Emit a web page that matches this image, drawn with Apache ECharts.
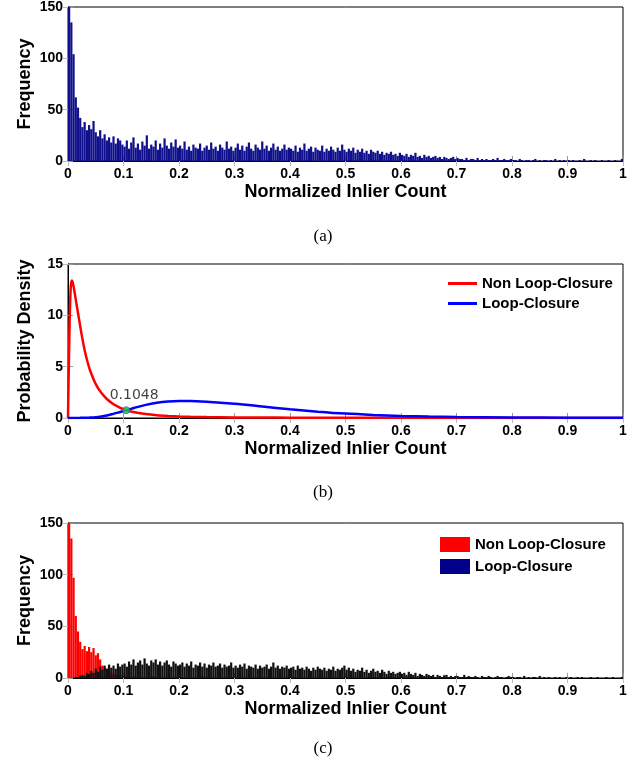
<!DOCTYPE html>
<html>
<head>
<meta charset="utf-8">
<script src="https://cdn.jsdelivr.net/npm/echarts@6/dist/echarts.min.js"></script>
<style>
  html, body { margin: 0; padding: 0; background: #fff; }
  #main { width: 639px; height: 765px; }
</style>
</head>
<body>
<div id="main"></div>
<script>
// histogram bins: width 0.004 over [0, 1], 25 bins per 0.1 row
const binWidth = 0.004;

// (a) all pairs
const freqAll = [
  150, 135, 104, 62, 52, 42, 33, 38, 30, 35, 31, 39, 28, 24, 30, 22, 26, 20, 23, 18, 24, 17, 22, 20, 16,
  14, 20, 12, 18, 23, 13, 17, 11, 19, 15, 25, 12, 16, 14, 20, 11, 17, 13, 22, 15, 12, 18, 14, 21, 13,
  15, 12, 19, 11, 14, 10, 16, 13, 12, 17, 10, 13, 15, 11, 18, 12, 14, 10, 16, 13, 11, 19, 12, 14, 10,
  13, 17, 11, 15, 10, 14, 18, 12, 10, 16, 13, 11, 19, 12, 15, 10, 13, 17, 11, 14, 10, 12, 16, 11, 13,
  12, 10, 15, 9, 13, 11, 17, 10, 12, 14, 9, 13, 11, 10, 15, 9, 12, 10, 14, 11, 9, 13, 10, 16, 11,
  9, 12, 10, 13, 8, 11, 9, 12, 8, 10, 7, 11, 9, 8, 10, 7, 9, 6, 8, 7, 9, 6, 7, 5, 8,
  6, 5, 7, 4, 6, 5, 8, 4, 5, 3, 6, 4, 5, 3, 4, 5, 3, 4, 2, 4, 3, 2, 3, 4, 2,
  3, 2, 2, 1, 3, 1, 2, 2, 1, 3, 1, 2, 1, 2, 1, 1, 2, 1, 3, 1, 1, 2, 1, 1, 2,
  1, 1, 0, 2, 1, 0, 1, 1, 0, 1, 2, 0, 1, 0, 1, 1, 0, 1, 0, 2, 0, 1, 0, 1, 0,
  1, 0, 1, 0, 0, 1, 0, 2, 0, 0, 1, 0, 1, 0, 0, 1, 0, 0, 1, 0, 0, 1, 0, 0, 2
];

// (c) split by ground truth
const freqNonLoop = [
  150, 135, 97, 60, 45, 35, 28, 31, 26, 30, 25, 29, 22, 24, 18, 12, 10, 9, 6, 5, 4, 3, 2, 3, 1,
  2, 1, 0, 1, 2, 0, 1, 0, 1, 0, 0, 1, 0, 2, 0, 1, 0, 0, 1, 0, 1, 0, 0, 1, 0,
  0, 1, 0, 0, 1, 0, 0, 1, 0, 0, 2, 0, 0, 1, 0, 0, 0, 1, 0, 0, 1, 0, 0, 0, 1,
  0, 0, 1, 0, 0, 0, 1, 0, 0, 1, 0, 0, 0, 1, 0, 0, 1, 0, 0, 0, 1, 0, 0, 1, 0,
  0, 1, 0, 0, 0, 1, 0, 0, 0, 0, 1, 0, 0, 0, 0, 1, 0, 0, 3, 0, 0, 1, 0, 0, 0,
  0, 0, 1, 0, 0, 0, 0, 1, 0, 0, 0, 0, 1, 0, 0, 0, 0, 0, 1, 0, 0, 0, 0, 1, 0,
  0, 0, 0, 1, 0, 0, 0, 0, 0, 1, 0, 0, 0, 0, 0, 0, 0, 0, 0, 3, 0, 0, 0, 0, 0,
  0, 0, 0, 0, 0, 1, 0, 0, 0, 0, 0, 0, 0, 0, 0, 0, 0, 0, 0, 0, 0, 0, 0, 0, 0,
  0, 0, 0, 0, 0, 0, 0, 0, 0, 0, 0, 0, 0, 0, 0, 0, 0, 0, 0, 0, 0, 0, 0, 0, 0,
  0, 0, 0, 0, 0, 0, 0, 0, 0, 0, 0, 0, 0, 0, 0, 0, 0, 0, 0, 0, 0, 0, 0, 0, 0
];
const freqLoop = [
  0, 0, 0, 1, 1, 2, 3, 2, 5, 4, 7, 5, 9, 6, 11, 8, 12, 9, 13, 10, 12, 9, 14, 11, 13,
  14, 11, 16, 13, 18, 12, 15, 17, 13, 19, 14, 12, 17, 15, 18, 13, 16, 12, 15, 17, 13, 11, 16, 14, 12,
  13, 15, 11, 14, 12, 16, 10, 13, 12, 15, 11, 14, 10, 13, 12, 15, 11, 12, 14, 10, 13, 11, 12, 15, 10,
  12, 10, 13, 11, 14, 9, 12, 11, 10, 13, 9, 12, 10, 11, 13, 9, 11, 15, 10, 12, 9, 11, 10, 12, 9,
  10, 11, 8, 12, 9, 10, 8, 11, 9, 7, 10, 8, 11, 9, 8, 10, 7, 9, 8, 11, 7, 9, 8, 10, 12,
  8, 10, 7, 9, 6, 8, 7, 10, 6, 8, 5, 7, 9, 6, 7, 5, 8, 6, 4, 7, 5, 6, 4, 5, 6,
  4, 5, 3, 6, 4, 3, 5, 2, 4, 3, 2, 4, 3, 2, 3, 1, 3, 2, 1, 2, 3, 1, 2, 1, 2,
  2, 1, 1, 3, 1, 2, 1, 1, 2, 1, 0, 2, 1, 1, 2, 1, 0, 1, 2, 1, 1, 0, 1, 2, 1,
  1, 0, 1, 1, 0, 2, 0, 1, 0, 1, 1, 0, 2, 0, 1, 0, 1, 0, 0, 1, 0, 1, 0, 0, 1,
  0, 1, 0, 0, 1, 0, 1, 0, 0, 0, 1, 0, 0, 1, 0, 0, 0, 1, 0, 0, 1, 0, 0, 0, 1
];

// (b) fitted densities
const pdfX = [0, 0.001, 0.003, 0.005, 0.007, 0.009, 0.012, 0.015, 0.02, 0.025, 0.03, 0.035, 0.04, 0.05,
  0.06, 0.07, 0.08, 0.09, 0.1, 0.11, 0.12, 0.14, 0.16, 0.18, 0.2, 0.22, 0.25, 0.3, 0.35, 0.4, 0.45,
  0.5, 0.55, 0.6, 0.65, 0.7, 0.8, 0.9, 1.0];
const pdfNonLoop = [0, 3.5, 9.5, 12.8, 13.4, 13.1, 12.2, 11.2, 9.6, 8.0, 6.6, 5.5, 4.6, 3.3,
  2.45, 1.85, 1.42, 1.1, 0.85, 0.68, 0.55, 0.38, 0.27, 0.2, 0.15, 0.12, 0.09, 0.06, 0.045, 0.035, 0.028,
  0.022, 0.018, 0.015, 0.012, 0.01, 0.007, 0.005, 0.004];
const pdfLoop = [0, 0, 0, 0, 0, 0, 0, 0.005, 0.01, 0.015, 0.02, 0.03, 0.04, 0.08,
  0.15, 0.25, 0.38, 0.52, 0.68, 0.84, 1.0, 1.28, 1.48, 1.6, 1.65, 1.65, 1.58, 1.38, 1.12, 0.85, 0.62,
  0.43, 0.3, 0.2, 0.14, 0.1, 0.05, 0.03, 0.02];
const crossX = 0.1048;
const crossY = 0.76;

const captions = ['(a)', '(b)', '(c)'];
const legendNames = ['Non Loop-Closure', 'Loop-Closure'];

const chart = echarts.init(document.getElementById('main'));

const FONT = 'Liberation Sans, Arial, Helvetica, sans-serif';
const grids = [
  { left: 68, top: 6, width: 555, height: 155 },
  { left: 68, top: 264, width: 555, height: 154 },
  { left: 68, top: 523, width: 555, height: 155 }
];
const yConf = [
  { max: 150, interval: 50, name: 'Frequency' },
  { max: 15, interval: 5, name: 'Probability Density' },
  { max: 150, interval: 50, name: 'Frequency' }
];

const xAxes = [];
const yAxes = [];
grids.forEach((g, i) => {
  xAxes.push({
    type: 'value', gridIndex: i, position: 'bottom', min: 0, max: 1, interval: 0.1,
    name: 'Normalized Inlier Count', nameLocation: 'middle', nameGap: 22,
    nameTextStyle: { fontFamily: FONT, fontWeight: 'bold', fontSize: 18, color: '#000' },
    axisLine: { show: true, onZero: false, lineStyle: { color: '#000', width: 1 } },
    axisTick: { show: true, inside: true, length: 5, lineStyle: { color: '#999' } },
    axisLabel: { fontFamily: FONT, fontWeight: 'bold', fontSize: 14, color: '#000', margin: 6 },
    splitLine: { show: false }
  });
  xAxes.push({
    type: 'value', gridIndex: i, position: 'top', min: 0, max: 1, interval: 0.1,
    axisLine: { show: false }, axisLabel: { show: false }, splitLine: { show: false },
    axisTick: { show: true, inside: true, length: 5, lineStyle: { color: '#bbb' } }
  });
  yAxes.push({
    type: 'value', gridIndex: i, position: 'left', min: 0, max: yConf[i].max, interval: yConf[i].interval,
    name: yConf[i].name, nameLocation: 'middle', nameGap: 34, nameMoveOverlap: false,
    nameTextStyle: { fontFamily: FONT, fontWeight: 'bold', fontSize: 18, color: '#000' },
    axisLine: { show: true, lineStyle: { color: '#000', width: 1 } },
    axisTick: { show: true, inside: true, length: 5, lineStyle: { color: '#999' } },
    axisLabel: { fontFamily: FONT, fontWeight: 'bold', fontSize: 14, color: '#000', margin: 5 },
    splitLine: { show: false }
  });
  yAxes.push({
    type: 'value', gridIndex: i, position: 'right', min: 0, max: yConf[i].max, interval: yConf[i].interval,
    axisLine: { show: false }, axisLabel: { show: false }, splitLine: { show: false },
    axisTick: { show: true, inside: true, length: 5, lineStyle: { color: '#bbb' } }
  });
});

// hidden category axes carry the bins so the bars fill each bin edge to edge
const binCenters = freqAll.map((v, i) => ((i + 0.5) * binWidth).toFixed(3));
[0, 2].forEach(gi => {
  xAxes.push({ type: 'category', gridIndex: gi, data: binCenters, boundaryGap: true, show: false });
});

const paired = ys => pdfX.map((x, i) => [x, ys[i]]);

const option = {
  animation: false,
  backgroundColor: '#fff',
  grid: grids.map(g => Object.assign({ show: true, borderColor: '#000', borderWidth: 1, backgroundColor: 'transparent' }, g)),
  xAxis: xAxes,
  yAxis: yAxes,
  legend: [
    {
      data: legendNames, orient: 'vertical', left: 443, top: 271, icon: 'rect',
      itemWidth: 29, itemHeight: 3, itemGap: 5, selectedMode: false,
      textStyle: { fontFamily: FONT, fontWeight: 'bold', fontSize: 15, color: '#000' }
    },
    {
      data: [
        { name: 'hist-non', itemStyle: { color: '#ff0000' } },
        { name: 'hist-loop', itemStyle: { color: '#00008b' } }
      ],
      formatter: n => (n === 'hist-non' ? legendNames[0] : legendNames[1]),
      orient: 'vertical', left: 435, top: 532, icon: 'rect',
      itemWidth: 30, itemHeight: 15, itemGap: 7, selectedMode: false,
      textStyle: { fontFamily: FONT, fontWeight: 'bold', fontSize: 15, color: '#000' }
    }
  ],
  graphic: captions.map((c, i) => ({
    type: 'text', x: 323, y: [237, 493, 749][i],
    style: { text: c, fontFamily: 'Liberation Serif, Times New Roman, serif', fontSize: 17, fill: '#000',
      textAlign: 'center', textVerticalAlign: 'middle' }
  })),
  series: [
    {
      name: 'all', type: 'bar', xAxisIndex: 6, yAxisIndex: 0, data: freqAll,
      barCategoryGap: '0%', itemStyle: { color: '#10108c' }
    },
    {
      name: legendNames[0], type: 'line', xAxisIndex: 2, yAxisIndex: 2, data: paired(pdfNonLoop),
      showSymbol: false, symbol: 'none', smooth: 0.3,
      lineStyle: { color: '#ff0000', width: 2.5 }, itemStyle: { color: '#ff0000' }, z: 3
    },
    {
      name: legendNames[1], type: 'line', xAxisIndex: 2, yAxisIndex: 2, data: paired(pdfLoop),
      showSymbol: false, symbol: 'none', smooth: 0.3,
      lineStyle: { color: '#0000ff', width: 2.5 }, itemStyle: { color: '#0000ff' }, z: 4
    },
    {
      name: 'cross', type: 'scatter', xAxisIndex: 2, yAxisIndex: 2, data: [[crossX, crossY]],
      symbolSize: 7, itemStyle: { color: '#22cc44', borderColor: '#3366aa', borderWidth: 1 }, z: 5,
      label: { show: true, position: 'top', distance: 4, offset: [8, 0], formatter: String(crossX),
        fontFamily: 'DejaVu Sans, sans-serif', fontSize: 14, color: '#111' }
    },
    {
      name: 'hist-non', type: 'bar', xAxisIndex: 7, yAxisIndex: 4, data: freqNonLoop,
      barCategoryGap: '0%', barGap: '-100%', itemStyle: { color: '#ff0000' }
    },
    {
      name: 'hist-loop', type: 'bar', xAxisIndex: 7, yAxisIndex: 4, data: freqLoop,
      barCategoryGap: '0%', barGap: '-100%', itemStyle: { color: '#111111' }
    }
  ]
};

chart.setOption(option);
</script>
</body>
</html>
